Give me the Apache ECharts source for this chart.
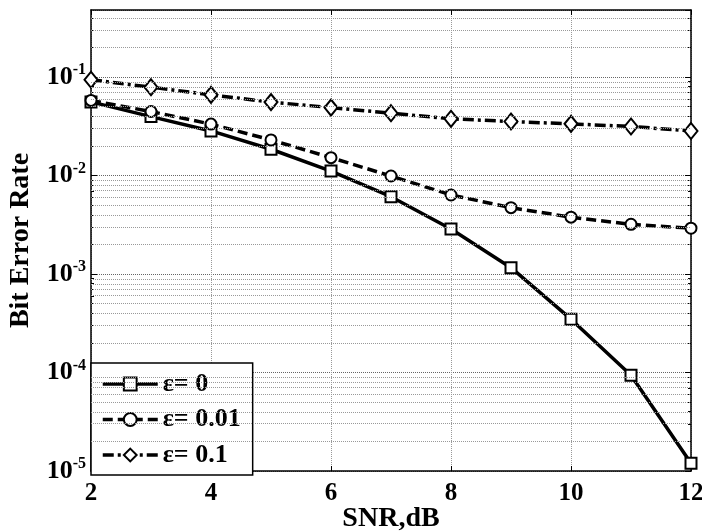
<!DOCTYPE html>
<html>
<head>
    <meta charset="utf-8">
    <title>BER vs SNR</title>
    <script src="https://cdn.jsdelivr.net/npm/echarts@6/dist/echarts.min.js"></script>
    <style>
        html, body { margin: 0; padding: 0; background: #fff; }
        #chart { width: 702px; height: 531px; }
    </style>
</head>
<body>
<div id="chart"></div>
<script>
    // 数据区域
    var snr = [2, 3, 4, 5, 6, 7, 8, 9, 10, 11, 12];
    var ber0 = [0.056, 0.0397, 0.0284, 0.0185, 0.0111, 0.0061, 0.00287, 0.00116, 0.000348, 0.000094, 0.000012];
    var ber001 = [0.058, 0.0447, 0.0333, 0.023, 0.0152, 0.0099, 0.00635, 0.00472, 0.00378, 0.0032, 0.00292];
    var ber01 = [0.094, 0.079, 0.066, 0.0557, 0.049, 0.043, 0.0377, 0.0354, 0.0335, 0.0315, 0.0284];
    var names = ['ε= 0', 'ε= 0.01', 'ε= 0.1'];
    var decades = [-5, -4, -3, -2, -1];
    var yMax = 0.48;

    var font = "'Liberation Serif', 'Times New Roman', serif";

    function pts(arr) {
        return snr.map(function (x, i) { return [x, Math.log10(arr[i])]; });
    }

    // 小刻度 2..9 x 10^n
    var minor = [];
    decades.forEach(function (d) {
        for (var k = 2; k <= 9; k++) {
            var v = Math.log10(k) + d;
            if (v < Math.log10(yMax)) minor.push(v);
        }
    });

    var myChart = echarts.init(document.getElementById('chart'));
    var yTop = Math.log10(yMax);

    var yBase = { type: 'value', min: -5, max: yTop, interval: 1, scale: true };

    option = {
        animation: false,
        backgroundColor: '#fff',
        grid: { left: 91, right: 11, top: 10, bottom: 60, outerBoundsMode: 'none', containLabel: false },
        legend: {
            data: names,
            orient: 'vertical',
            left: 91,
            top: 363,
            padding: [8, 12, 7, 10],
            itemGap: 9.5,
            itemWidth: 55,
            itemHeight: 16,
            backgroundColor: '#fff',
            borderColor: '#000',
            borderWidth: 1.5,
            borderRadius: 0,
            lineStyle: { width: 3.5 },
            itemStyle: { borderWidth: 3 },
            textStyle: { fontFamily: font, fontWeight: 'bold', fontSize: 26, lineHeight: 25, color: '#000' }
        },
        xAxis: [
            {
                type: 'value', min: 2, max: 12, interval: 2,
                name: 'SNR,dB', nameLocation: 'middle', nameGap: 34, nameMoveOverlap: false,
                nameTextStyle: { fontFamily: font, fontWeight: 'bold', fontSize: 28, color: '#000' },
                axisLine: { lineStyle: { color: '#000', width: 1.5 } },
                axisTick: { inside: true, length: 5, lineStyle: { color: '#000' } },
                axisLabel: { margin: 10, fontFamily: font, fontWeight: 'bold', fontSize: 25, color: '#000' },
                splitLine: { show: true, lineStyle: { color: '#999', type: 'dotted', width: 1 } }
            },
            {
                type: 'value', min: 2, max: 12, interval: 2, position: 'top',
                axisLine: { lineStyle: { color: '#000', width: 1.5 } },
                axisTick: { inside: true, length: 5, lineStyle: { color: '#000' } },
                axisLabel: { show: false },
                splitLine: { show: false }
            }
        ],
        yAxis: [
            Object.assign({}, yBase, {
                position: 'left',
                name: 'Bit Error Rate', nameLocation: 'middle', nameGap: 56, nameMoveOverlap: false,
                nameTextStyle: { fontFamily: font, fontWeight: 'bold', fontSize: 28, color: '#000' },
                axisLine: { show: true, lineStyle: { color: '#000', width: 1.5 } },
                axisTick: { inside: true, length: 6, lineStyle: { color: '#000' } },
                axisLabel: {
                    margin: 5,
                    showMaxLabel: false,
                    formatter: function (v) { return '{b|10}{s|' + Math.round(v) + '}'; },
                    rich: {
                        b: { fontFamily: font, fontWeight: 'bold', fontSize: 26, lineHeight: 30, color: '#000' },
                        s: { fontFamily: font, fontWeight: 'bold', fontSize: 16, lineHeight: 16, verticalAlign: 'top', color: '#000' }
                    }
                },
                splitLine: { show: true, lineStyle: { color: '#666', type: 'dotted', width: 1 } }
            }),
            Object.assign({}, yBase, {
                position: 'left',
                axisLine: { show: false },
                axisTick: { inside: true, length: 3, customValues: minor, lineStyle: { color: '#000' } },
                axisLabel: { show: false },
                splitLine: { show: false }
            }),
            Object.assign({}, yBase, {
                position: 'right',
                axisLine: { show: true, lineStyle: { color: '#000', width: 1.5 } },
                axisTick: { inside: true, length: 6, lineStyle: { color: '#000' } },
                axisLabel: { show: false },
                splitLine: { show: false }
            }),
            Object.assign({}, yBase, {
                position: 'right',
                axisLine: { show: false },
                axisTick: { inside: true, length: 3, customValues: minor, lineStyle: { color: '#000' } },
                axisLabel: { show: false },
                splitLine: { show: false }
            })
        ],
        series: [
            {
                name: 'grid',
                type: 'line',
                data: [],
                z: 0,
                silent: true,
                markLine: {
                    silent: true,
                    symbol: ['none', 'none'],
                    label: { show: false },
                    lineStyle: { color: '#999', type: 'dotted', width: 1 },
                    data: minor.map(function (v) { return { yAxis: v }; })
                }
            },
            {
                name: names[0],
                type: 'line',
                data: pts(ber0),
                symbol: 'emptyRect',
                symbolSize: 11,
                lineStyle: { color: '#000', width: 3.5, type: 'solid' },
                itemStyle: { color: '#000', borderWidth: 3 }
            },
            {
                name: names[1],
                type: 'line',
                data: pts(ber001),
                symbol: 'emptyCircle',
                symbolSize: 11,
                lineStyle: { color: '#000', width: 3.5, type: [10, 5] },
                itemStyle: { color: '#000', borderWidth: 3 }
            },
            {
                name: names[2],
                type: 'line',
                data: pts(ber01),
                symbol: 'emptyDiamond',
                symbolSize: [13, 16],
                lineStyle: { color: '#000', width: 3.5, type: [11, 4, 3, 4] },
                itemStyle: { color: '#000', borderWidth: 3 }
            }
        ]
    };
    myChart.setOption(option);
</script>
</body>
</html>
